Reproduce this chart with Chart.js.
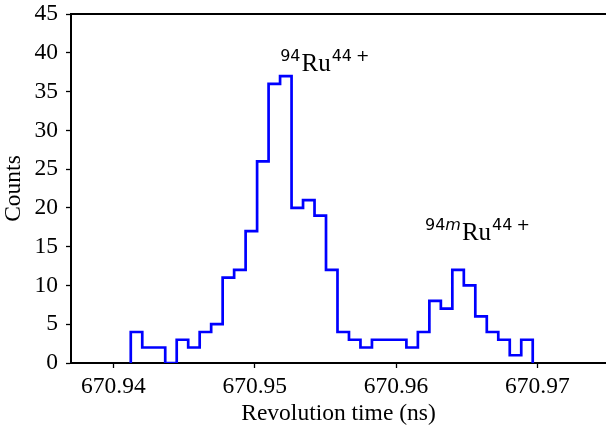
<!DOCTYPE html>
<html>
<head>
<meta charset="utf-8">
<script src="https://cdn.jsdelivr.net/npm/chart.js@4.4.0/dist/chart.umd.min.js"></script>
<style>
html,body{margin:0;padding:0;background:#fff;overflow:hidden;}
#wrap{width:606px;height:428px;position:relative;}
</style>
</head>
<body>
<div id="wrap"><canvas id="c" width="606" height="428"></canvas></div>
<script>
// ---- data ----
const binStart = 670.94123;   // left edge of first bin (ns)
const binWidth = 0.0008127;   // bin width (ns)
const counts = [4,2,2,0,3,2,4,5,11,12,17,26,36,37,20,21,19,12,4,3,2,3,3,3,2,4,8,7,12,10,6,4,3,1,3];
const xTicks = [670.94, 670.95, 670.96, 670.97];
const yTicks = [0,5,10,15,20,25,30,35,40,45];
const xRange = [670.937, 670.97486];
const yRange = [0, 45];
const labels = [
  {pre:'94', preItalic:'', main:'Ru', post:'44', x:670.95180, y:37.7},
  {pre:'94', preItalic:'m', main:'Ru', post:'44', x:670.96205, y:15.9}
];

// histogram step outline
const pts = [{x: binStart, y: 0}];
counts.forEach((c, i) => pts.push({x: binStart + i * binWidth, y: c}));
pts.push({x: binStart + counts.length * binWidth, y: 0});

const SERIF = '"Liberation Serif", "Times New Roman", serif';
const SANS = '"DejaVu Sans", sans-serif';
const FS = 23.5;

const framePlugin = {
  id: 'frame',
  afterDraw(chart) {
    const {ctx, chartArea} = chart;
    ctx.save();
    ctx.strokeStyle = '#000';
    ctx.lineWidth = 2;
    ctx.beginPath();
    ctx.moveTo(chartArea.left - 1, chartArea.top);
    ctx.lineTo(chartArea.right, chartArea.top);
    ctx.stroke();
    // annotations
    const xs = chart.scales.x, ys = chart.scales.y;
    ctx.fillStyle = '#000';
    ctx.textBaseline = 'alphabetic';
    labels.forEach(l => {
      let px = xs.getPixelForValue(l.x);
      const py = ys.getPixelForValue(l.y);
      const sup = py - 10;
      ctx.font = '16px ' + SANS;
      ctx.fillText(l.pre, px, sup); px += ctx.measureText(l.pre).width;
      if (l.preItalic) {
        ctx.font = 'oblique 16px ' + SANS;
        ctx.fillText(l.preItalic, px, sup); px += ctx.measureText(l.preItalic).width;
      }
      px += 1;
      ctx.font = '25px ' + SERIF;
      ctx.fillText(l.main, px, py); px += ctx.measureText(l.main).width + 1;
      ctx.font = '16px ' + SANS;
      ctx.fillText(l.post, px, sup); px += ctx.measureText(l.post).width + 4;
      ctx.fillText('+', px, sup);
    });
    ctx.restore();
  }
};

new Chart(document.getElementById('c'), {
  type: 'line',
  data: {
    datasets: [{
      data: pts,
      stepped: 'before',
      borderColor: '#0000ff',
      borderWidth: 2.7,
      pointRadius: 0,
      fill: false,
      tension: 0
    }]
  },
  options: {
    responsive: false,
    animation: false,
    devicePixelRatio: 1,
    layout: {padding: {top: 0, right: 0, left: 0, bottom: 0}},
    plugins: {legend: {display: false}, tooltip: {enabled: false}},
    scales: {
      x: {
        type: 'linear',
        min: xRange[0], max: xRange[1],
        afterBuildTicks(s) { s.ticks = xTicks.map(v => ({value: v})); },
        afterFit(s) { s.height = 65; },
        grid: {drawOnChartArea: false, drawTicks: true, tickLength: 5, tickColor: '#000', tickWidth: 1.3},
        border: {display: true, color: '#000', width: 2},
        ticks: {
          color: '#000', padding: 5, maxRotation: 0, autoSkip: false,
          font: {family: SERIF, size: FS},
          callback: v => v.toFixed(2)
        },
        title: {display: true, text: 'Revolution time (ns)', color: '#000',
          font: {family: SERIF, size: FS}, padding: {top: 0, bottom: 0}}
      },
      y: {
        type: 'linear',
        min: yRange[0], max: yRange[1],
        afterBuildTicks(s) { s.ticks = yTicks.map(v => ({value: v})); },
        afterFit(s) { s.width = 71; s.paddingTop = 14; },
        grid: {drawOnChartArea: false, drawTicks: true, tickLength: 5, tickColor: '#000', tickWidth: 1.3},
        border: {display: true, color: '#000', width: 2},
        ticks: {color: '#000', padding: 8, font: {family: SERIF, size: FS}},
        title: {display: true, text: 'Counts', color: '#000',
          font: {family: SERIF, size: FS}, padding: {top: 0, bottom: 0}}
      }
    }
  },
  plugins: [framePlugin]
});
</script>
</body>
</html>
